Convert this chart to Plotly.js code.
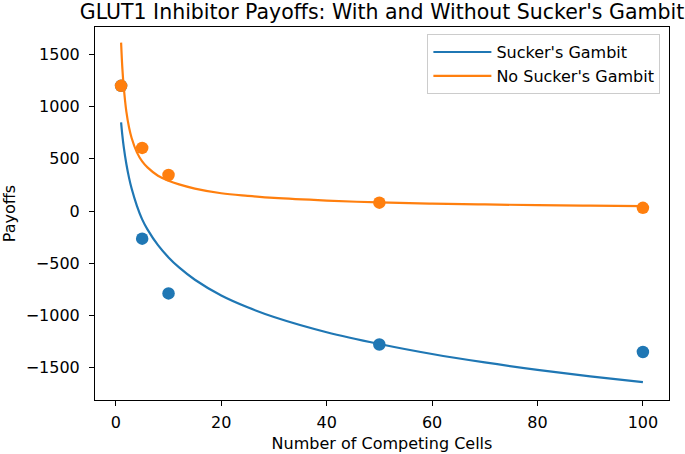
<!DOCTYPE html>
<html>
<head>
<meta charset="utf-8">
<script src="https://cdn.plot.ly/plotly-3.0.1.min.js"></script>
<style>
html,body{margin:0;padding:0;background:#fff;}
#chart{width:685px;height:454px;}
</style>
</head>
<body>
<div id="chart"></div>
<script>
// Observed data points
const pointCells = [1, 5, 10, 50, 100];
const suckerPoints = [1200, -265, -790, -1280, -1352];
const noSuckerPoints = [1200, 605, 345, 80, 30];

// Fitted curves
const curveCells = [1, 1.25, 1.5, 2, 2.5, 3, 4, 5, 6, 8, 10, 12, 15, 20, 25, 30, 40, 50, 60, 70, 80, 90, 100];
const suckerCurve = [850, 720, 615, 450, 320, 215, 50, -80, -176, -328, -445, -541, -659, -810, -923, -1016, -1162, -1275, -1371, -1452, -1523, -1585, -1640];
const noSuckerCurve = [1614, 1360, 1190, 952, 803, 700, 562, 475, 418, 338, 290, 255, 215, 170, 145, 125, 100, 82, 71, 63, 56, 51, 47];

const seriesNames = ["Sucker's Gambit", "No Sucker's Gambit"];
const titleText = "GLUT1 Inhibitor Payoffs: With and Without Sucker's Gambit";
const xTitle = "Number of Competing Cells";
const yTitle = "Payoffs";

const BLUE = '#1f77b4', ORANGE = '#ff7f0e';
const FONT = 'DejaVu Sans, sans-serif';

const traces = [
  {x: pointCells, y: suckerPoints, mode: 'markers', type: 'scatter',
   marker: {color: BLUE, size: 12.5}, showlegend: false, hoverinfo: 'skip'},
  {x: curveCells, y: suckerCurve, mode: 'lines', type: 'scatter', name: seriesNames[0],
   line: {color: BLUE, width: 2.2, shape: 'spline', smoothing: 1}},
  {x: pointCells, y: noSuckerPoints, mode: 'markers', type: 'scatter',
   marker: {color: ORANGE, size: 12.5}, showlegend: false, hoverinfo: 'skip'},
  {x: curveCells, y: noSuckerCurve, mode: 'lines', type: 'scatter', name: seriesNames[1],
   line: {color: ORANGE, width: 2.2, shape: 'spline', smoothing: 1}}
];

const axisCommon = {
  showline: true, linecolor: '#000', linewidth: 1, mirror: true,
  ticks: 'outside', ticklen: 5, tickwidth: 1, tickcolor: '#000',
  showgrid: false, zeroline: false,
  tickfont: {family: FONT, size: 16, color: '#000'}
};

const layout = {
  width: 685, height: 454,
  paper_bgcolor: '#fff', plot_bgcolor: '#fff',
  margin: {l: 95, r: 16, t: 27, b: 54},
  font: {family: FONT, color: '#000'},
  title: {text: titleText, font: {family: FONT, size: 20.5, color: '#000'},
          x: 0.5, xref: 'paper', xanchor: 'center', y: 0.975, yref: 'container', yanchor: 'middle'},
  xaxis: Object.assign({}, axisCommon, {
    range: [-3.95, 104.95], tickmode: 'linear', tick0: 0, dtick: 20,
    ticklabelstandoff: 3,
    title: {text: xTitle, font: {family: FONT, size: 16, color: '#000'}, standoff: 6}
  }),
  yaxis: Object.assign({}, axisCommon, {
    range: [-1812, 1764], tickmode: 'linear', tick0: 0, dtick: 500,
    ticklabelstandoff: 6,
    title: {text: yTitle, font: {family: FONT, size: 16, color: '#000'}, standoff: 8}
  }),
  legend: {
    x: 0.985, y: 0.981, xanchor: 'right', yanchor: 'top',
    bgcolor: '#fff', bordercolor: '#ccc', borderwidth: 1,
    itemwidth: 58,
    font: {family: FONT, size: 16, color: '#000'}
  },
  showlegend: true
};

Plotly.newPlot('chart', traces, layout, {staticPlot: true, displayModeBar: false});
</script>
</body>
</html>
